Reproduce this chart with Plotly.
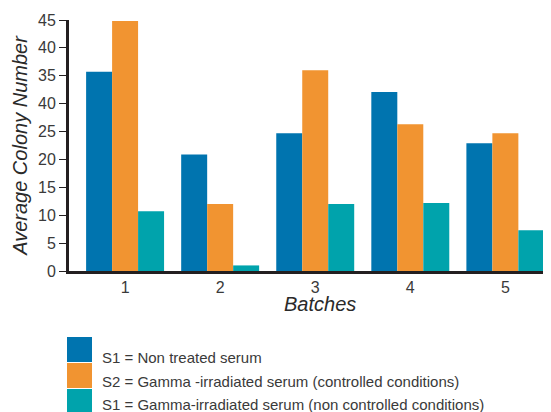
import plotly.graph_objects as go

batches = [1, 2, 3, 4, 5]
batch_labels = ["1", "2", "3", "4", "5"]
s1_non_treated = [35.7, 20.9, 24.7, 32.1, 22.9]
s2_gamma_controlled = [44.8, 12.0, 36.0, 26.3, 24.7]
s1_gamma_non_controlled = [10.7, 1.0, 12.0, 12.2, 7.3]
series_names = [
    "S1 = Non treated serum",
    "S2 = Gamma -irradiated serum (controlled conditions)",
    "S1 = Gamma-irradiated serum (non controlled conditions)",
]
colors = ["#0074AF", "#F19431", "#00A3AC"]
y_tickvals = [0, 5, 10, 15, 20, 25, 30, 35, 40, 45]
y_ticktext = ["0", "5", "10", "15", "20", "25", "40", "35", "40", "45"]

# page has 8px body margin; work in page pixels and convert
OFF = 8
W, H = 551 - OFF, 412 - OFF
plot_left, plot_right, plot_top, plot_bottom = 69, 551, 20, 271
L = plot_left - OFF
T = plot_top - OFF
R = 551 - plot_right
B = 412 - plot_bottom
PW = plot_right - plot_left
PH = plot_bottom - plot_top


def px(xp):
    return (xp - plot_left) / PW


def py(yp):
    return (plot_bottom - yp) / PH


fig = go.Figure()
for vals, name, col in zip([s1_non_treated, s2_gamma_controlled, s1_gamma_non_controlled], series_names, colors):
    fig.add_trace(go.Bar(x=batches, y=vals, name=name, marker=dict(color=col, line=dict(width=0)),
                         showlegend=False))

font_family = "Liberation Sans, Arial, sans-serif"
fig.update_layout(
    width=W, height=H,
    margin=dict(l=L, r=R, t=T, b=B, pad=0),
    paper_bgcolor="white", plot_bgcolor="white",
    barmode="group", bargap=0.18, bargroupgap=0,
    font=dict(family=font_family, color="#3a3a3a", size=16),
    xaxis=dict(range=[0.41, 5.48], tickvals=batches, ticktext=batch_labels,
               showgrid=False, zeroline=False, showline=True, linecolor="#231f20", linewidth=3,
               ticks="", tickfont=dict(size=16, color="#3a3a3a")),
    yaxis=dict(range=[0, 45], tickvals=y_tickvals, ticktext=y_ticktext,
               showgrid=False, zeroline=False, showline=True, linecolor="#231f20", linewidth=3,
               ticks="outside", ticklen=7, tickwidth=1, tickcolor="#231f20",
               tickfont=dict(size=16, color="#3a3a3a"),
               title=dict(text="<i>Average Colony Number</i>", font=dict(size=20, color="#2a2a2a"), standoff=6)),
)

fig.add_annotation(text="<i>Batches</i>", xref="paper", yref="paper",
                   x=px(320), y=py(304), xanchor="center", yanchor="middle",
                   showarrow=False, font=dict(size=20, color="#2a2a2a"))

# custom legend
sq_top = [337, 363, 389]
txt_y = [357, 381, 404]
for name, col, top, ty in zip(series_names, colors, sq_top, txt_y):
    fig.add_shape(type="rect", xref="paper", yref="paper",
                  x0=px(67), x1=px(92), y0=py(top), y1=py(top + 25),
                  fillcolor=col, line=dict(width=0), layer="above")
    fig.add_annotation(text=name, xref="paper", yref="paper",
                       x=px(100), y=py(ty), xanchor="left", yanchor="middle",
                       showarrow=False, font=dict(size=15, color="#3a3a3a"))

fig.write_html("out.html")
